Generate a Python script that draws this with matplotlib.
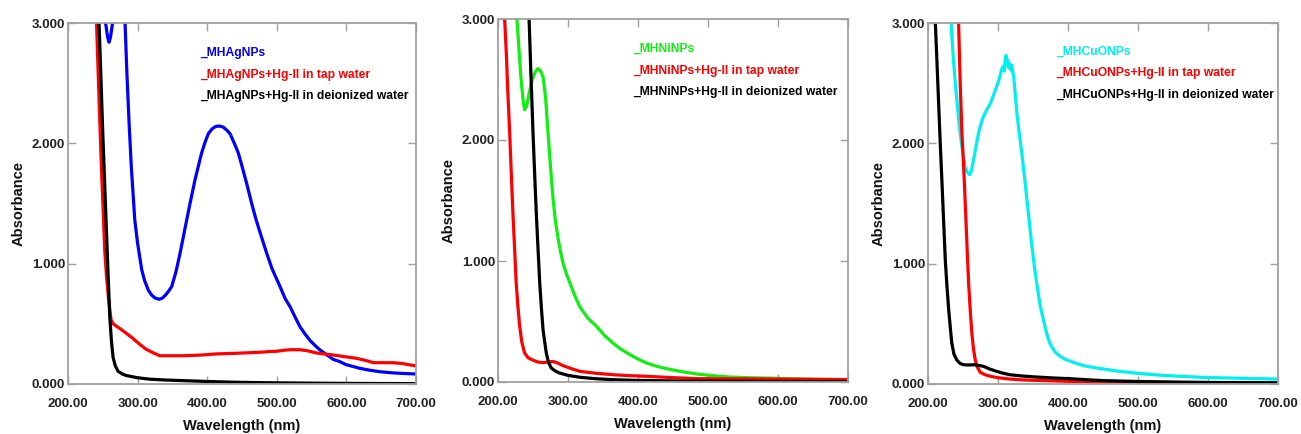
import matplotlib
matplotlib.use("Agg")
import matplotlib.pyplot as plt

plt.rcParams['font.family'] = ['Liberation Sans', 'DejaVu Sans']

# ---------------- Panel 1: MHAgNPs ----------------
ag_wl = [250, 254, 257, 259, 261, 264, 268, 278, 282, 284.5, 287.6, 291, 296, 300, 305.9, 310, 315.4, 320, 325,
         331, 336, 341, 345, 349, 355, 361, 368, 375.3, 383, 392, 397, 401.6, 407, 412, 417.4, 423, 428, 432.8,
         439, 444.7, 450, 457, 463.9, 470, 477, 485.5, 493, 504.6, 512, 519, 526, 533.3, 540, 548, 555, 562,
         570, 581, 590.8, 600, 610, 619.5, 633, 648, 665, 680, 700]
ag_abs = [3.6, 3.0, 2.88, 2.84, 2.88, 3.0, 3.6, 3.6, 3.0, 2.6, 2.19, 1.80, 1.36, 1.17, 0.95, 0.86, 0.78, 0.74,
          0.715, 0.704, 0.715, 0.745, 0.775, 0.81, 0.93, 1.086, 1.29, 1.50, 1.71, 1.92, 2.01, 2.08, 2.12, 2.14,
          2.144, 2.135, 2.11, 2.08, 2.00, 1.92, 1.81, 1.66, 1.50, 1.37, 1.24, 1.086, 0.96, 0.81, 0.71, 0.643,
          0.56, 0.476, 0.42, 0.36, 0.32, 0.283, 0.25, 0.205, 0.185, 0.16, 0.145, 0.13, 0.115, 0.102, 0.093,
          0.088, 0.083]

ag_tap_wl = [238, 241, 245, 248, 250.5, 252.8, 255, 257.6, 260, 262, 265, 269.6, 276, 284, 293, 303, 312, 322,
             332, 345, 365, 390, 413, 440, 461, 480, 490, 500, 509.5, 520, 533, 545, 555, 567, 581, 600, 615,
             628, 639, 655, 667, 680, 690, 700]
ag_tap_abs = [3.5, 3.0, 2.3, 1.8, 1.45, 1.11, 0.92, 0.75, 0.62, 0.53, 0.50, 0.48, 0.455, 0.42, 0.38, 0.33, 0.29,
              0.26, 0.235, 0.235, 0.235, 0.24, 0.25, 0.255, 0.26, 0.265, 0.27, 0.272, 0.28, 0.285, 0.285, 0.275,
              0.26, 0.25, 0.241, 0.225, 0.213, 0.195, 0.177, 0.177, 0.177, 0.17, 0.16, 0.15]

ag_di_wl = [241, 244.6, 247, 250, 252.5, 255, 257.5, 260, 262.5, 264.8, 268, 272, 278, 284, 300, 317.5, 340,
            365.5, 400, 437.5, 480, 533.5, 600, 650, 700]
ag_di_abs = [3.6, 3.0, 2.6, 2.08, 1.70, 1.31, 0.93, 0.56, 0.35, 0.22, 0.15, 0.105, 0.083, 0.07, 0.052, 0.04,
             0.033, 0.028, 0.021, 0.015, 0.011, 0.008, 0.005, 0.004, 0.003]

# ---------------- Panel 2: MHNiNPs ----------------
ni_wl = [224, 227, 230, 233, 236, 238, 241, 245, 249, 253, 257, 261, 264.4, 268, 271.6, 275, 278.7, 282, 286,
         290, 293, 298, 302.6, 310, 317, 328, 340.7, 352, 364.6, 376, 388.5, 400, 412, 424, 436, 460, 484, 508,
         531.6, 555, 579, 620, 660, 700]
ni_abs = [3.5, 3.0, 2.75, 2.5, 2.32, 2.25, 2.28, 2.40, 2.50, 2.56, 2.59, 2.57, 2.52, 2.35, 2.05, 1.78, 1.51,
          1.33, 1.18, 1.06, 0.98, 0.89, 0.82, 0.71, 0.62, 0.53, 0.46, 0.385, 0.32, 0.27, 0.226, 0.19, 0.157,
          0.135, 0.116, 0.088, 0.066, 0.052, 0.041, 0.036, 0.033, 0.027, 0.022, 0.019]

ni_tap_wl = [207, 209.5, 212, 214, 216.7, 219, 221.5, 224, 226, 228.5, 231, 234, 238, 243, 250, 257, 264.4, 271,
             278.7, 286, 293, 305, 317, 340, 364.6, 390, 412, 450, 484, 530, 579, 640, 700]
ni_tap_abs = [3.5, 3.0, 2.7, 2.4, 2.06, 1.72, 1.37, 1.07, 0.82, 0.62, 0.46, 0.33, 0.24, 0.20, 0.18, 0.165, 0.16,
              0.165, 0.17, 0.155, 0.135, 0.11, 0.088, 0.072, 0.06, 0.052, 0.047, 0.036, 0.028, 0.026, 0.025,
              0.022, 0.02]

ni_di_wl = [241, 244.4, 247, 250, 252.5, 254.9, 257.2, 259.6, 262, 264.4, 267, 269, 272, 276, 282, 288, 300, 317,
            340, 364.6, 400, 460, 550, 620, 700]
ni_di_abs = [3.6, 3.0, 2.55, 2.06, 1.70, 1.37, 1.10, 0.82, 0.61, 0.43, 0.32, 0.24, 0.165, 0.116, 0.09, 0.074,
             0.055, 0.039, 0.027, 0.019, 0.013, 0.008, 0.005, 0.004, 0.003]

# ---------------- Panel 3: MHCuONPs ----------------
cu_wl = [229, 233, 236, 239, 242.5, 246, 249.5, 253, 256, 259.4, 262, 265, 268.5, 272, 275.5, 279, 284, 289, 293.5,
         298, 301.5, 305, 307.5, 309, 310, 311.4, 312.5, 314, 315, 316.5, 318, 319.5, 321, 322.5, 324, 327, 330.5,
         334, 337.5, 341, 344.5, 348, 351.5, 355, 360, 365, 369.5, 374, 381, 388.7, 396, 403, 415, 426.7, 450,
         474, 498, 522, 557, 593, 650, 700]
cu_abs = [3.5, 3.0, 2.72, 2.50, 2.28, 2.08, 1.93, 1.80, 1.76, 1.74, 1.77, 1.86, 1.97, 2.08, 2.16, 2.22, 2.28,
          2.33, 2.40, 2.47, 2.53, 2.61, 2.64, 2.60, 2.68, 2.73, 2.66, 2.69, 2.63, 2.66, 2.61, 2.65, 2.60, 2.55,
          2.45, 2.25, 2.08, 1.92, 1.74, 1.55, 1.36, 1.17, 1.00, 0.85, 0.66, 0.53, 0.42, 0.34, 0.27, 0.23, 0.205,
          0.19, 0.165, 0.147, 0.125, 0.105, 0.09, 0.077, 0.065, 0.055, 0.047, 0.041]

cu_tap_wl = [240, 243.7, 246, 248.5, 251, 253, 255.5, 258, 260.5, 262.7, 265, 267.5, 270.5, 274.6, 281, 289, 300,
             317, 335, 355, 400, 450, 520, 600, 700]
cu_tap_abs = [3.5, 3.0, 2.5, 2.08, 1.80, 1.53, 1.18, 0.84, 0.60, 0.42, 0.29, 0.20, 0.14, 0.097, 0.078, 0.064,
              0.052, 0.041, 0.034, 0.03, 0.022, 0.017, 0.013, 0.01, 0.008]

cu_di_wl = [207, 210.5, 213, 215, 217.5, 220, 222.5, 224.7, 227, 229.5, 232, 234, 237, 241, 246, 251, 258, 265,
            272, 279, 288, 298, 307, 317, 335, 355, 380, 403, 425, 450, 500, 545.5, 600, 650, 700]
cu_di_abs = [3.5, 3.0, 2.65, 2.36, 2.00, 1.67, 1.33, 1.03, 0.82, 0.62, 0.46, 0.34, 0.25, 0.20, 0.17, 0.16, 0.158,
             0.16, 0.155, 0.147, 0.125, 0.105, 0.09, 0.077, 0.066, 0.058, 0.05, 0.044, 0.036, 0.028, 0.021,
             0.017, 0.013, 0.011, 0.01]

x_ticks = [200, 300, 400, 500, 600, 700]
y_ticks = [0, 1, 2, 3]
x_ticklabels = ["200.00", "300.00", "400.00", "500.00", "600.00", "700.00"]
y_ticklabels = ["0.000", "1.000", "2.000", "3.000"]

panels = [
    dict(rect=(68, 23, 348, 361), leg_x=0.38, leg_y=[0.917, 0.857, 0.798],
         series=[(ag_wl, ag_abs, "#0000ff", "MHAgNPs"),
                 (ag_tap_wl, ag_tap_abs, "#ff0000", "MHAgNPs+Hg-II in tap water"),
                 (ag_di_wl, ag_di_abs, "#000000", "MHAgNPs+Hg-II in deionized water")]),
    dict(rect=(498, 19, 350, 363), leg_x=0.385, leg_y=[0.917, 0.857, 0.799],
         series=[(ni_wl, ni_abs, "#11ee11", "MHNiNPs"),
                 (ni_tap_wl, ni_tap_abs, "#ff0000", "MHNiNPs+Hg-II in tap water"),
                 (ni_di_wl, ni_di_abs, "#000000", "MHNiNPs+Hg-II in deionized water")]),
    dict(rect=(928, 23, 350, 361), leg_x=0.366, leg_y=[0.919, 0.861, 0.800],
         series=[(cu_wl, cu_abs, "#00f0f0", "MHCuONPs"),
                 (cu_tap_wl, cu_tap_abs, "#ff0000", "MHCuONPs+Hg-II in tap water"),
                 (cu_di_wl, cu_di_abs, "#000000", "MHCuONPs+Hg-II in deionized water")]),
]

W, H = 1301, 434
fig = plt.figure(figsize=(W / 100, H / 100), dpi=100)

for p in panels:
    l, t, w, h = p["rect"]
    ax = fig.add_axes([l / W, (H - t - h) / H, w / W, h / H])
    for wl, ab, col, lab in p["series"]:
        ax.plot(wl, ab, color=col, lw=2.3, solid_joinstyle='round', solid_capstyle='round')
    ax.set_xlim(200, 700)
    ax.set_ylim(0, 3)
    ax.set_xticks(x_ticks)
    ax.set_xticklabels(x_ticklabels)
    ax.set_yticks(y_ticks)
    ax.set_yticklabels(y_ticklabels)
    ax.tick_params(direction='in', length=6, width=1, color='#a0a0a0',
                   top=True, right=True, labelsize=9.5, labelcolor='#222222')
    ax.tick_params(axis='x', pad=10)
    ax.tick_params(axis='y', pad=2)
    for lbl in ax.get_xticklabels() + ax.get_yticklabels():
        lbl.set_fontweight('bold')
    for s in ax.spines.values():
        s.set_color('#a0a0a0')
        s.set_linewidth(1.3)
    ax.set_xlabel("Wavelength (nm)", fontsize=10.5, fontweight='bold', color='#111111')
    ax.xaxis.set_label_coords(0.5, -0.097)
    ax.xaxis.label.set_verticalalignment('top')
    ax.set_ylabel("Absorbance", fontsize=10.5, fontweight='bold', color='#111111')
    ax.yaxis.set_label_coords(-0.121 * 348 / w, 0.5)
    for (wl, ab, col, lab), yy in zip(p["series"], p["leg_y"]):
        ax.text(p["leg_x"], yy, "_" + lab, transform=ax.transAxes, color=col,
                fontsize=8.7, fontweight='bold', va='center', ha='left')

fig.savefig("out.png", dpi=100, facecolor='white')
